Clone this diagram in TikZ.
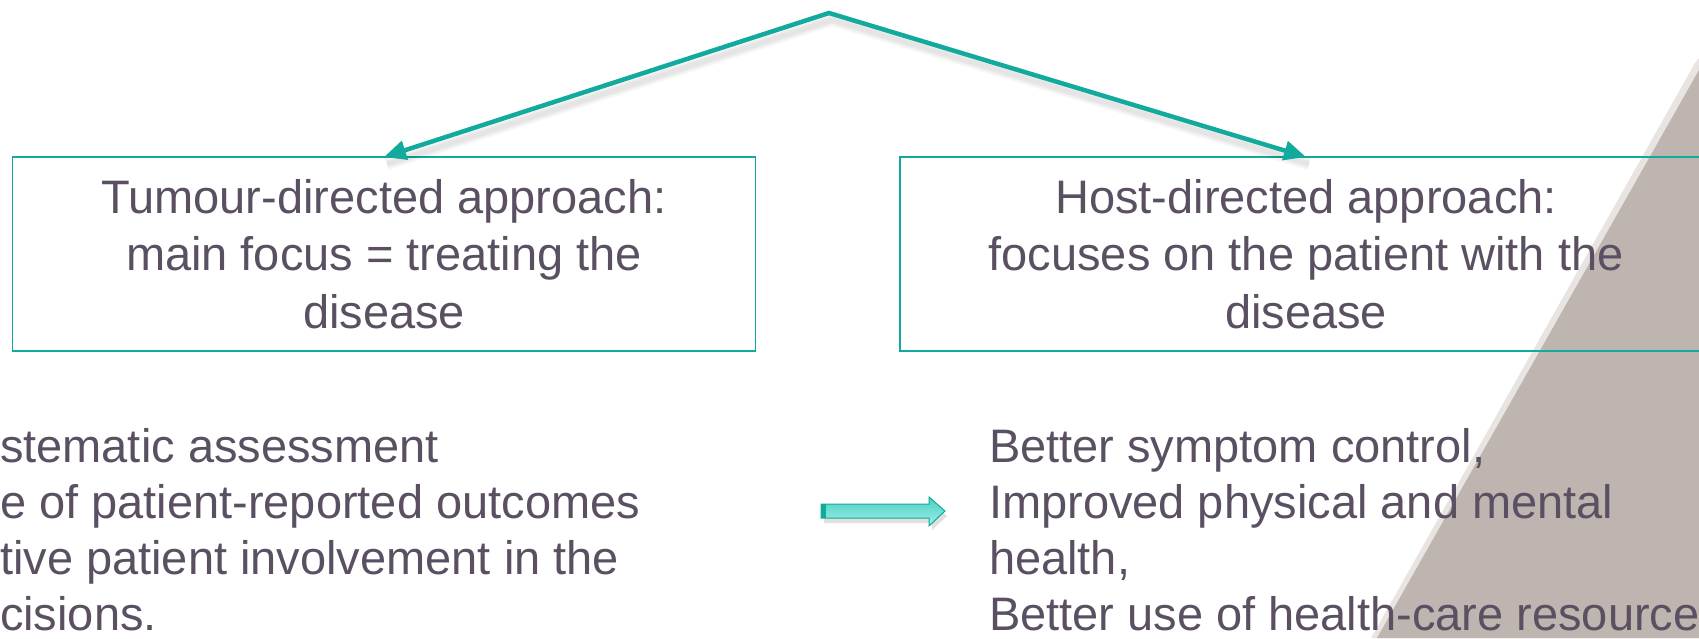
\documentclass[tikz,border=0pt]{standalone}
\usepackage{fontspec}
\setmainfont{Liberation Sans}
\usetikzlibrary{arrows.meta}

\definecolor{c14aa9e}{RGB}{18,170,156}
\definecolor{c5a5062}{RGB}{90,80,98}
\definecolor{cbeb4b0}{RGB}{190,180,176}
\definecolor{ce2dddb}{RGB}{232,228,226}
\definecolor{c9af0e8}{RGB}{154,240,232}
\definecolor{c4fcfc3}{RGB}{79,207,195}

\begin{document}
\begin{tikzpicture}[y=1pt, x=1pt, yscale=-1, inner sep=0pt, outer sep=0pt,
  box/.style={draw=c14aa9e, line width=1.5pt, minimum height=194pt,
    align=center, text=c5a5062, font=\fontsize{47}{57.5}\selectfont},
  branch/.style={draw=c14aa9e, line width=4.5pt, line join=miter,
    {Triangle[length=22pt,width=19pt]}-{Triangle[length=22pt,width=19pt]}},
  branchshadow/.style={draw=black, opacity=0.035, line join=miter},
  line/.style={anchor=base west, text=c5a5062, font=\fontsize{47}{56}\selectfont}]
\useasboundingbox (0,0) rectangle (1699,638);
\clip (0,0) rectangle (1699,638);

% grey wedge at the right edge
\fill[ce2dddb] (1695,63) -- (1371,638) -- (1699,638) -- (1699,58) -- cycle;
\fill[cbeb4b0] (1699,70) -- (1377,638) -- (1699,638) -- cycle;

% the two approaches
\node[box, minimum width=743pt] (tumour) at (384,254)
  {Tumour-directed approach:\\main focus = treating the\\disease};
\node[box, minimum width=812pt] (host) at (1306,254)
  {Host-directed approach:\\focuses on the patient with the\\disease};

% split from the top
\coordinate (apex) at (829,13);
\foreach \w in {12,8,5}
  \draw[branchshadow, line width=\w pt] ([shift={(3,7)}]tumour.north)
    -- ([shift={(3,7)}]apex) -- ([shift={(3,7)}]host.north);
\draw[branch] (tumour.north) -- (apex) -- (host.north);

% what it involves
\node[line] (sys) at (0,462) {stematic assessment};
\node[line] (pro) at (0,518) {e of patient-reported outcomes};
\node[line] (act) at (0,574) {tive patient involvement in the};
\node[line] (dec) at (0,630) {cisions.};

% block arrow
\fill[black, opacity=0.12] (824,509) -- (932,509) -- (932,503) -- (947,516)
  -- (932,530) -- (932,523) -- (824,523) -- cycle;
\path[top color=c4fcfc3, bottom color=c9af0e8, draw=c14aa9e, line width=1pt]
  (821,504) -- (929,504) -- (929,497) -- (945,511) -- (929,526) -- (929,518)
  -- (821,518) -- cycle;
\fill[c14aa9e] (821,504) rectangle (826,518);

% what it gives
\node[line] (sym) at (989,462) {Better symptom control,};
\node[line] (phy) at (989,518) {Improved physical and mental};
\node[line] (hea) at (989,574) {health,};
\node[line] (res) at (989,630) {Better use of health-care resource};
\end{tikzpicture}
\end{document}
